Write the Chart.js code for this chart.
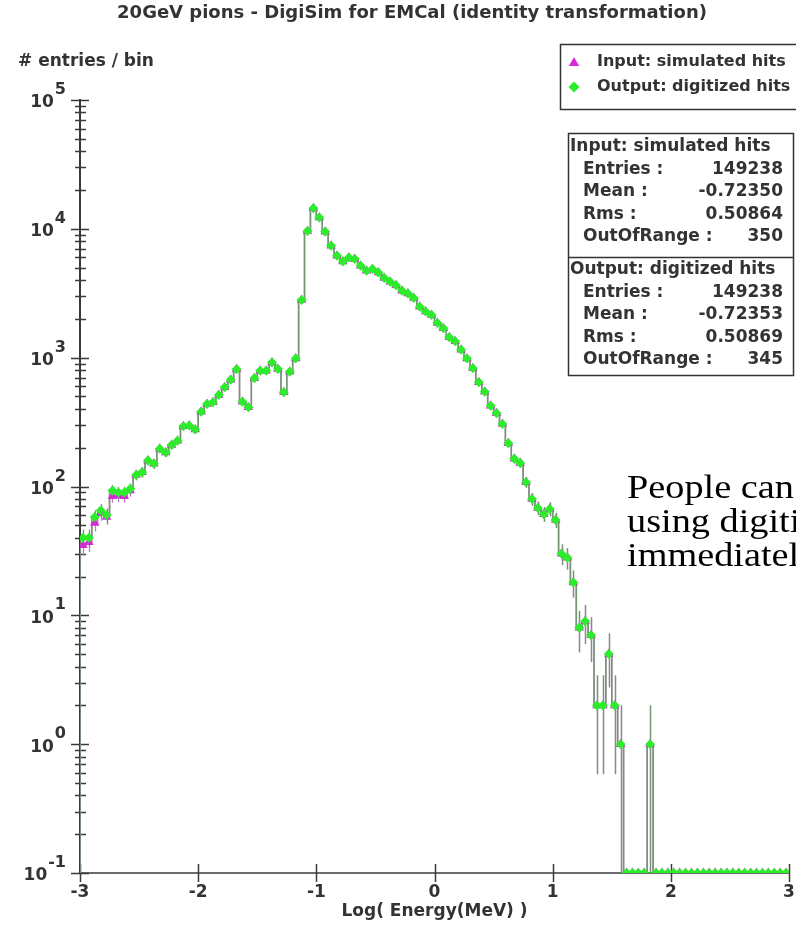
<!DOCTYPE html>
<html>
<head>
<meta charset="utf-8">
<title>20GeV pions - DigiSim for EMCal</title>
<script src="https://cdn.jsdelivr.net/npm/chart.js@4.4.1/dist/chart.umd.min.js"></script>
<style>
  body { margin: 0; background: #fff; }
  canvas { display: block; }
</style>
</head>
<body>
<canvas id="digiChart" width="796" height="931"></canvas>
<script>
// log10(E / MeV) histogram: 120 bins of 0.05 from -3 to 3
const binLow = -3;
const binWidth = 0.05;

// entries per bin, digitized hits (first bin is -3.00 .. -2.95)
const outputCounts = [
  40, 40, 58, 65, 60, 93, 90, 90, 96, 123,
  129, 159, 150, 196, 184, 210, 227, 294, 297, 277,
  381, 437, 450, 514, 589, 675, 812, 455, 412, 692,
  793, 790, 919, 817, 538, 778, 986, 2797, 9640, 14450,
  12240, 9480, 7380, 6180, 5580, 5990, 5820, 5170, 4730, 4870,
  4580, 4150, 3890, 3650, 3300, 3150, 2900, 2485, 2285, 2140,
  1860, 1690, 1440, 1340, 1150, 987, 826, 644, 545, 424,
  370, 306, 217, 164, 152, 108, 80, 68, 61, 67,
  55, 30, 28, 18, 8, 9, 7, 2, 2, 5,
  2, 1, 0, 0, 0, 0, 1, 0, 0, 0,
  0, 0, 0, 0, 0, 0, 0, 0, 0, 0,
  0, 0, 0, 0, 0, 0, 0, 0, 0, 0
];

// entries per bin, simulated hits
const inputCounts = [
  35, 37, 52, 62, 58, 84, 85, 84, 93, 123,
  129, 159, 150, 196, 184, 210, 227, 294, 297, 277,
  381, 437, 450, 514, 589, 675, 812, 455, 412, 692,
  793, 790, 919, 817, 538, 778, 986, 2797, 9640, 14450,
  12240, 9480, 7380, 6180, 5580, 5990, 5820, 5170, 4730, 4870,
  4580, 4150, 3890, 3650, 3300, 3150, 2900, 2485, 2285, 2140,
  1860, 1690, 1440, 1340, 1150, 987, 826, 644, 545, 424,
  370, 306, 217, 164, 152, 108, 80, 68, 61, 67,
  55, 30, 28, 18, 8, 9, 7, 2, 2, 5,
  2, 1, 0, 0, 0, 0, 1, 0, 0, 0,
  0, 0, 0, 0, 0, 0, 0, 0, 0, 0,
  0, 0, 0, 0, 0, 0, 0, 0, 0, 0
];

const xTicks = [-3, -2, -1, 0, 1, 2, 3];
const yDecades = [-1, 0, 1, 2, 3, 4, 5];

const seriesNames = ['Input: simulated hits', 'Output: digitized hits'];
const statsRows = ['Entries :', 'Mean :', 'Rms :', 'OutOfRange :'];
const inputStats = ['149238', '-0.72350', '0.50864', '350'];
const outputStats = ['149238', '-0.72353', '0.50869', '345'];
const noteLines = ['People can', 'using digiti', 'immediatel'];

const Y_MIN = 0.1;
const Y_MAX = 1e5;
const INK = '#333333';
const LINE_GREEN = '#739873';
const LINE_PINK = '#bb7fbb';
const MARK_GREEN = '#2cec2c';
const MARK_PINK = '#d62ad6';
const SANS = '"DejaVu Sans", sans-serif';

// empty bins sit on the bottom of the log axis
const floorY = c => (c > 0 ? c : Y_MIN);

function binCenters(counts) {
  return counts.map((c, i) => ({ x: binLow + (i + 0.5) * binWidth, y: floorY(c) }));
}

// histogram outline through the bin edges
function outline(counts) {
  const pts = [{ x: binLow, y: Y_MIN }];
  counts.forEach((c, i) => pts.push({ x: binLow + i * binWidth, y: floorY(c) }));
  pts.push({ x: binLow + counts.length * binWidth, y: floorY(counts[counts.length - 1]) });
  return pts;
}

const axesPlugin = {
  id: 'axesPlugin',
  beforeDatasetsDraw(chart) {
    const { ctx, chartArea: a, scales: { x, y } } = chart;
    ctx.save();
    ctx.strokeStyle = '#3a3a3a';

    ctx.lineWidth = 2;
    ctx.beginPath();
    ctx.moveTo(a.left, a.top - 1);
    ctx.lineTo(a.left, a.bottom);
    ctx.stroke();

    ctx.lineWidth = 1.5;
    ctx.beginPath();
    ctx.moveTo(a.left, a.bottom);
    ctx.lineTo(a.right, a.bottom);
    ctx.stroke();

    // decade ticks cross the axis, minor ticks are shorter
    ctx.lineWidth = 1.5;
    yDecades.forEach(d => {
      const py = Math.round(y.getPixelForValue(Math.pow(10, d))) + 0.5;
      ctx.beginPath();
      ctx.moveTo(a.left - 9, py);
      ctx.lineTo(a.left + 9, py);
      ctx.stroke();
      if (d === yDecades[yDecades.length - 1]) return;
      for (let m = 2; m <= 9; m++) {
        const pm = Math.round(y.getPixelForValue(m * Math.pow(10, d))) + 0.5;
        ctx.beginPath();
        ctx.moveTo(a.left - 5, pm);
        ctx.lineTo(a.left + 6, pm);
        ctx.stroke();
      }
    });

    xTicks.forEach(t => {
      const px = Math.round(x.getPixelForValue(t)) + 0.5;
      ctx.beginPath();
      ctx.moveTo(px, a.bottom - 9);
      ctx.lineTo(px, a.bottom + 9);
      ctx.stroke();
    });
    ctx.restore();
  }
};

// sqrt(N) error bars at the bin centres
const errorBars = {
  id: 'errorBars',
  beforeDatasetsDraw(chart) {
    const { ctx, chartArea: a, scales: { x, y } } = chart;
    ctx.save();
    ctx.beginPath();
    ctx.rect(a.left, a.top, a.width, a.height);
    ctx.clip();
    ctx.lineWidth = 1.3;
    [[inputCounts, LINE_PINK], [outputCounts, LINE_GREEN]].forEach(([counts, color]) => {
      ctx.strokeStyle = color;
      counts.forEach((c, i) => {
        if (c <= 0) return;
        const err = Math.sqrt(c);
        const px = Math.round(x.getPixelForValue(binLow + (i + 0.5) * binWidth)) + 0.5;
        const lo = c - err > Y_MIN ? c - err : Y_MIN;
        ctx.beginPath();
        ctx.moveTo(px, y.getPixelForValue(lo));
        ctx.lineTo(px, y.getPixelForValue(c + err));
        ctx.stroke();
      });
    });
    ctx.restore();
  }
};

const textPlugin = {
  id: 'textPlugin',
  afterDraw(chart) {
    const { ctx, chartArea: a, scales: { x, y } } = chart;
    ctx.save();
    ctx.fillStyle = INK;
    ctx.textBaseline = 'middle';

    ctx.textAlign = 'center';
    ctx.font = 'bold 18px ' + SANS;
    ctx.fillText('20GeV pions - DigiSim for EMCal (identity transformation)', 412, 13);

    ctx.textAlign = 'left';
    ctx.font = 'bold 17px ' + SANS;
    ctx.fillText('# entries / bin', 18, 62);

    // y tick labels as 10 with a raised exponent
    yDecades.forEach(d => {
      const py = y.getPixelForValue(Math.pow(10, d));
      const exp = String(d);
      ctx.font = 'bold 16px ' + SANS;
      const expW = ctx.measureText(exp).width;
      ctx.textAlign = 'left';
      ctx.fillText(exp, 66 - expW, py - 10);
      ctx.font = 'bold 17px ' + SANS;
      ctx.textAlign = 'right';
      ctx.fillText('10', 65 - expW, py + 3);
    });

    ctx.textAlign = 'center';
    ctx.font = 'bold 17px ' + SANS;
    xTicks.forEach(t => ctx.fillText(String(t), x.getPixelForValue(t), a.bottom + 20));
    ctx.fillText('Log( Energy(MeV) )', (a.left + a.right) / 2, a.bottom + 39);

    // legend box
    ctx.fillStyle = '#fff';
    ctx.fillRect(560, 44, 250, 65);
    ctx.strokeStyle = INK;
    ctx.lineWidth = 1.5;
    ctx.strokeRect(560.5, 44.5, 250, 65);
    ctx.fillStyle = MARK_PINK;
    Chart.helpers.drawPoint(ctx, { pointStyle: 'triangle', radius: 6, borderWidth: 0 }, 574, 63);
    ctx.fillStyle = MARK_GREEN;
    Chart.helpers.drawPoint(ctx, { pointStyle: 'rectRot', radius: 5.5, borderWidth: 0 }, 574, 87);
    ctx.fillStyle = INK;
    ctx.textAlign = 'left';
    ctx.font = 'bold 16px ' + SANS;
    ctx.fillText(seriesNames[0], 597, 62);
    ctx.fillText(seriesNames[1], 597, 87);

    // statistics box
    ctx.fillStyle = '#fff';
    ctx.fillRect(568, 133, 226, 242);
    ctx.strokeStyle = INK;
    ctx.strokeRect(568.5, 133.5, 225, 242);
    ctx.beginPath();
    ctx.moveTo(568, 257.5);
    ctx.lineTo(794, 257.5);
    ctx.stroke();
    ctx.fillStyle = INK;
    [[seriesNames[0], inputStats, 147], [seriesNames[1], outputStats, 270]].forEach(([name, vals, top]) => {
      ctx.font = 'bold 17px ' + SANS;
      ctx.textAlign = 'left';
      ctx.fillText(name, 570, top);
      statsRows.forEach((row, k) => {
        const py = top + 22.5 * (k + 1);
        ctx.textAlign = 'left';
        ctx.fillText(row, 583, py);
        ctx.textAlign = 'right';
        ctx.fillText(vals[k], 783, py);
      });
    });

    // slide note running off the right edge
    ctx.fillStyle = '#000';
    ctx.textAlign = 'left';
    ctx.textBaseline = 'alphabetic';
    ctx.font = '33px "Liberation Serif", serif';
    noteLines.forEach((line, k) => {
      ctx.save();
      ctx.translate(627, 498 + 34 * k);
      ctx.scale(1.16, 1);
      ctx.fillText(line, 0, 0);
      ctx.restore();
    });
    ctx.restore();
  }
};

new Chart(document.getElementById('digiChart'), {
  type: 'scatter',
  data: {
    datasets: [
      {
        label: seriesNames[1],
        data: binCenters(outputCounts),
        pointStyle: 'rectRot',
        pointRadius: 5,
        pointBackgroundColor: MARK_GREEN,
        pointBorderWidth: 0,
        showLine: false,
        order: 0
      },
      {
        label: seriesNames[0],
        data: binCenters(inputCounts),
        pointStyle: 'triangle',
        pointRadius: 5.5,
        pointBackgroundColor: MARK_PINK,
        pointBorderWidth: 0,
        showLine: false,
        order: 1
      },
      {
        label: 'output outline',
        data: outline(outputCounts),
        showLine: true,
        stepped: 'before',
        borderColor: LINE_GREEN,
        borderWidth: 1.5,
        pointRadius: 0,
        order: 2
      },
      {
        label: 'input outline',
        data: outline(inputCounts),
        showLine: true,
        stepped: 'before',
        borderColor: LINE_PINK,
        borderWidth: 1.5,
        pointRadius: 0,
        order: 3
      }
    ]
  },
  options: {
    responsive: false,
    animation: false,
    events: [],
    layout: { autoPadding: false, padding: { left: 80, right: 7, top: 100, bottom: 58 } },
    scales: {
      x: { type: 'linear', min: -3, max: 3, display: false },
      y: { type: 'logarithmic', min: Y_MIN, max: Y_MAX, display: false }
    },
    plugins: {
      legend: { display: false },
      tooltip: { enabled: false },
      title: { display: false }
    }
  },
  plugins: [axesPlugin, errorBars, textPlugin]
});
</script>
</body>
</html>
